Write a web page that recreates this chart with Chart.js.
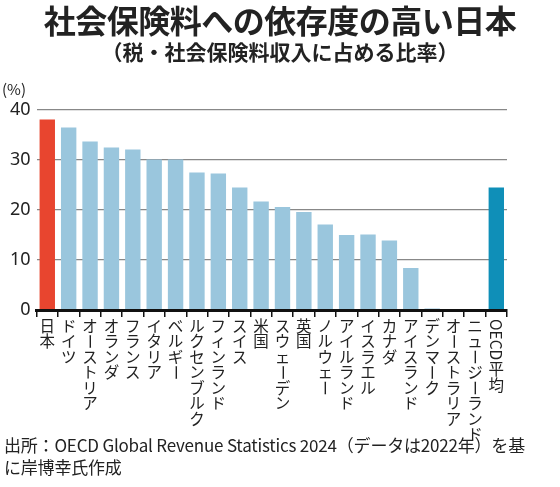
<!DOCTYPE html>
<html><head><meta charset="utf-8">
<script src="https://cdn.jsdelivr.net/npm/chart.js@4"></script>
<style>
body{margin:0;width:560px;height:487px;background:#fff;position:relative;overflow:hidden;font-family:"Noto Sans CJK JP",sans-serif;color:#222}
#c{position:absolute;left:0;top:0}
.t{position:absolute;white-space:nowrap}
</style></head><body>
<canvas id="c" width="560" height="487"></canvas>
<div class="t" style="left:0;width:560px;text-align:center;top:-4px;font-size:32px;font-weight:bold;letter-spacing:-0.5px">社会保険料への依存度の高い日本</div>
<div class="t" style="left:0;width:560px;text-align:center;top:36px;font-size:21px;font-weight:bold">（税・社会保険料収入に占める比率）</div>
<div class="t" style="left:2px;top:78px;font-size:15px">(%)</div>
<div class="t" style="left:4px;top:434px;font-size:17px;line-height:22px;letter-spacing:-0.2px">出所：OECD Global Revenue Statistics 2024（データは2022年）を基<br>に岸博幸氏作成</div>
<script>
const categories=["日本","ドイツ","オーストリア","オランダ","フランス","イタリア","ベルギー","ルクセンブルク","フィンランド","スイス","米国","スウェーデン","英国","ノルウェー","アイルランド","イスラエル","カナダ","アイスランド","デンマーク","オーストラリア","ニュージーランド","OECD平均"];
const values=[38.1,36.5,33.7,32.5,32.1,30.1,30.1,27.5,27.3,24.5,21.7,20.6,19.6,17.1,15.0,15.1,13.9,8.4,0.3,0,0,24.5];
const yTicks=[0,10,20,30,40];
const colors=categories.map((c,i)=>i===0?"#e8452f":(i===categories.length-1?"#0f8fb8":"#9ac6dd"));
const vlabels={id:"vlabels",afterDraw(ch){
  const ctx=ch.ctx,x=ch.scales.x;ctx.save();ctx.fillStyle="#222";
  ctx.font='15.5px "Noto Sans CJK JP"';ctx.textAlign="center";ctx.textBaseline="middle";
  categories.forEach((lab,i)=>{
    const px=x.getPixelForValue(i);let y=326;
    const m=lab.match(/^([A-Za-z]+)(.*)$/);
    let rest=lab;
    if(m){ctx.save();ctx.translate(px,y);ctx.rotate(Math.PI/2);ctx.textAlign="left";ctx.fillText(m[1],-7,0);const w=ctx.measureText(m[1]).width;ctx.restore();y+=w+2;rest=m[2];}
    for(const ch2 of rest){
      if(ch2==="ー"){ctx.save();ctx.translate(px,y);ctx.rotate(Math.PI/2);ctx.fillText(ch2,0,0);ctx.restore();}
      else ctx.fillText(ch2,px,y);
      y+=15.5;
    }
  });ctx.restore();}};
new Chart(document.getElementById("c"),{type:"bar",
data:{labels:categories,datasets:[{data:values,backgroundColor:colors,barPercentage:0.72,categoryPercentage:1}]},
options:{responsive:false,animation:false,
layout:{padding:{left:4,right:53,top:110,bottom:170}},
plugins:{legend:{display:false},tooltip:{enabled:false}},
scales:{
 x:{ticks:{display:false},grid:{display:true,drawOnChartArea:false,drawTicks:true,tickLength:7,color:"#111",lineWidth:1.5},border:{display:true,color:"#111",width:3,z:1}},
 y:{min:0,max:40,afterBuildTicks:s=>{s.ticks=yTicks.map(v=>({value:v}));},
   ticks:{padding:6,color:"#222",font:{size:18,family:"Noto Sans"}},
   grid:{color:"#888",lineWidth:1.3,drawTicks:false},border:{display:false}}
}},plugins:[vlabels]});
</script></body></html>
